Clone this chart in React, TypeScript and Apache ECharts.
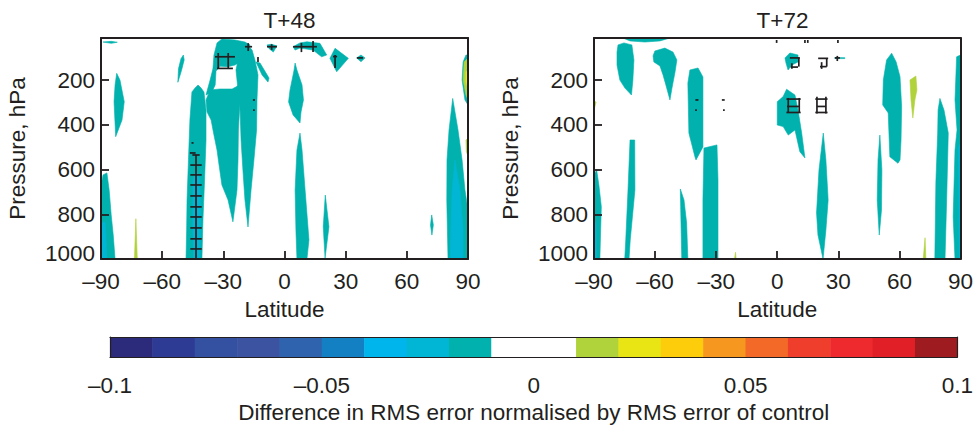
import React, { useEffect, useRef } from "react";
import * as echarts from "echarts";

// ---------------- data ----------------
const latTicks = [-90, -60, -30, 0, 30, 60, 90];
const pressureTicks = [200, 400, 600, 800, 1000];
const pressureTop = 12;
const pressureBottom = 1000;

const colorbarEdges = [
  -0.1, -0.09, -0.08, -0.07, -0.06, -0.05, -0.04, -0.03, -0.02, -0.01, 0,
  0.01, 0.02, 0.03, 0.04, 0.05, 0.06, 0.07, 0.08, 0.09, 0.1,
];
const colorbarColors = [
  "#2b2a7b", "#2e3b95", "#3350a1", "#3b53a0", "#2f63ae", "#1380c3", "#00b5ec",
  "#00b6d4", "#00b1ad", "#ffffff", "#ffffff", "#b0d23a", "#e9e515", "#fdcc0b",
  "#f6971f", "#f26928", "#ef3e2c", "#ee2a2e", "#e01f26", "#9e1c20",
];
const colorbarTicks = [-0.1, -0.05, 0, 0.05, 0.1];

const panelTitles = ["T+48", "T+72"];

// filled regions: [colour-bin index, [[latitude, pressure], ...]]
const t48Regions: [number, number[][]][] = [
  [8, [[-89, 30], [-85, 27], [-82, 31], [-85, 36]]],
  [8, [[-90, 674], [-89, 624], [-87.1, 615], [-86, 691], [-85, 803], [-84, 893], [-83.1, 1000], [-90, 1000]]],
  [7, [[-90, 840], [-88, 835], [-87.5, 900], [-87.2, 1000], [-90, 1000]]],
  [11, [[-73.6, 1000], [-72.9, 820], [-72.2, 1000]]],
  [8, [[-82.3, 170], [-80.7, 200], [-78.6, 297], [-79.7, 379], [-82.8, 453], [-83.6, 297], [-83.1, 222]]],
  [8, [[-49.6, 88], [-49.2, 110], [-50.6, 160], [-52.3, 210], [-52.0, 150], [-50.8, 105]]],
  [8, [[-48.3, 1000], [-48.0, 870], [-47.8, 736], [-47.1, 557], [-46.4, 379], [-45.4, 253], [-43.9, 236], [-42.4, 222], [-40.9, 236], [-39.5, 253], [-38.5, 334], [-38.5, 468], [-39.2, 647], [-40, 826], [-40.5, 1000]]],
  [7, [[-44.9, 650], [-43.4, 600], [-41.6, 640], [-41.2, 800], [-41.4, 1000], [-44.6, 1000], [-45, 850]]],
  [8, [[-38.5, 289], [-36.5, 244], [-31.6, 240], [-25.7, 240], [-22.8, 226], [-21.8, 289], [-22.6, 423], [-22.8, 557], [-23.3, 691], [-25.3, 834], [-27.7, 736], [-30.7, 669], [-32.1, 580], [-33.1, 513], [-34.6, 446], [-36, 379], [-38, 343]]],
  [8, [[-23.8, 155], [-21.8, 66], [-18.4, 39], [-15.9, 66], [-14.5, 110], [-13, 177], [-13.5, 289], [-13.7, 423], [-15, 557], [-16.4, 691], [-17.9, 857], [-19.4, 736], [-20.4, 602], [-21.3, 468], [-21.8, 334], [-22.8, 244]]],
  [8, [[-14.0, 119], [-12.0, 124], [-7.6, 191], [-8.1, 209], [-11.0, 177]]],
  [8, [[-35.1, 150], [-34.6, 88], [-33.1, 34], [-30.7, 16], [-24.3, 21], [-19.4, 30], [-16.9, 43], [-18.4, 88], [-21.8, 119], [-24.3, 133], [-27.7, 140], [-31.6, 138], [-33.6, 160]]],
  [8, [[-38.5, 267], [-36.5, 200], [-35.1, 150], [-33.6, 160], [-34, 222], [-35.6, 253]]],
  [8, [[-8.6, 43], [-6.5, 40], [-3.7, 47], [-5.5, 75], [-7.5, 60]]],
  [8, [[4.2, 51], [7.6, 34], [11, 29], [17.4, 36], [20.7, 88], [18.2, 96], [14, 66], [7.6, 57], [5.2, 66]]],
  [8, [[22.3, 103], [24.8, 58], [31.3, 103], [25.6, 163]]],
  [8, [[35.4, 101], [37.5, 88], [39.5, 101], [37.5, 118]]],
  [8, [[5.2, 124], [6.1, 155], [8.6, 222], [9.3, 289], [8.1, 343], [7.6, 392], [4.2, 356], [2, 298], [2.7, 244], [4.7, 155]]],
  [8, [[7.6, 437], [8.6, 513], [10.1, 691], [12, 915], [11, 1000], [6.1, 1000], [5.6, 870], [5.2, 691], [6.1, 513]]],
  [8, [[20, 714], [21.8, 856], [19.9, 996], [19, 856]]],
  [8, [[72.2, 803], [73, 848], [72.3, 893], [71.6, 848]]],
  [8, [[82.5, 282], [85.1, 423], [87.1, 557], [88.5, 691], [90, 781], [90, 1000], [80.2, 1000], [79.6, 736], [79.7, 557], [80.7, 423]]],
  [7, [[83.6, 557], [86.1, 691], [87.6, 870], [87.6, 1000], [81.2, 1000], [81.7, 826], [82.2, 691]]],
  [8, [[89, 88], [90, 88], [90, 311], [88.5, 289], [87.1, 200], [87.6, 119]]],
  [11, [[88.1, 119], [90, 101], [90, 289], [89, 267], [87.6, 200]]],
  [12, [[89, 164], [90, 155], [90, 236], [89, 209]]],
  [11, [[89, 468], [90, 460], [90, 540], [89.2, 520]]],
];

const t72Regions: [number, number[][]][] = [
  [8, [[-75.8, 12], [-52.7, 12], [-57.6, 25], [-65, 30], [-72.3, 25]]],
  [8, [[-78.2, 43], [-75.3, 34], [-71.4, 43], [-70.4, 110], [-70.9, 200], [-71.6, 267], [-74.8, 236], [-77.3, 200], [-78.7, 133], [-78.7, 75]]],
  [8, [[-60.1, 70], [-55.2, 57], [-51.2, 75], [-49.3, 110], [-50.2, 164], [-51.7, 236], [-52.7, 289], [-54.7, 222], [-56.1, 177], [-57.6, 137], [-60.6, 119], [-61, 92]]],
  [8, [[-42.9, 155], [-38.9, 146], [-36.5, 186], [-36.5, 289], [-36.5, 499], [-39.9, 557], [-40.4, 544], [-43.4, 437], [-43.9, 213]]],
  [8, [[-36, 504], [-29.6, 490], [-29.1, 647], [-29.1, 1000], [-36.5, 1000], [-36.5, 736]]],
  [8, [[-47.6, 687], [-45.8, 736], [-44.5, 839], [-43.9, 1000], [-46.9, 1000], [-47.3, 826]]],
  [8, [[-72.3, 468], [-70, 468], [-69.9, 691], [-72.2, 915], [-72.8, 1000], [-74.9, 1000], [-74.4, 915], [-73.3, 691]]],
  [8, [[-88.7, 602], [-87.6, 669], [-86.4, 766], [-86.8, 893], [-87.1, 996], [-90, 1000], [-90, 624]]],
  [7, [[-90, 826], [-89, 840], [-88.6, 1000], [-90, 1000]]],
  [11, [[-90, 289], [-89, 300], [-90, 334]]],
  [8, [[4.6, 241], [8.7, 267], [10.2, 334], [12, 437], [13.6, 548], [11.1, 520], [8.7, 423], [5.4, 446], [2.9, 408], [0, 401], [0, 297], [2.9, 274]]],
  [8, [[3.8, 101], [6.2, 79], [10.2, 88], [10.2, 119], [7.2, 133], [5.3, 155], [4.3, 124]]],
  [8, [[28.3, 99], [33.2, 100], [33.2, 104], [28.3, 104]]],
  [8, [[22.6, 437], [23.9, 557], [25, 736], [23.9, 870], [22.5, 1000], [20, 893], [19.3, 794], [20.5, 602]]],
  [8, [[50.4, 446], [51.4, 602], [51.2, 781], [50.1, 893], [49.1, 736], [49.5, 557]]],
  [8, [[56.2, 80], [58.4, 119], [60.3, 185], [61.1, 319], [60.8, 468], [60.3, 557], [59.3, 572], [55.3, 543], [54.5, 347], [51.8, 311], [52.1, 200], [53.7, 110]]],
  [11, [[65.2, 200], [68.1, 182], [68.6, 244], [67.6, 289], [66.6, 370], [65.7, 289]]],
  [11, [[71.7, 1000], [72.6, 905], [73, 1000]]],
  [11, [[-21, 1000], [-20.5, 970], [-20.2, 1000]]],
  [8, [[79.9, 282], [81.9, 334], [84, 437], [83.2, 736], [82.4, 1000], [77.4, 1000], [77.9, 660], [78.8, 437], [79, 334]]],
  [8, [[88.1, 96], [90, 88], [90, 1000], [87.3, 1000], [86.4, 811], [87.3, 513], [88.3, 423], [87.3, 289]]],
  [7, [[89, 500], [90, 480], [90, 1000], [89.3, 1000]]],
];

// significance marks: [lat1, p1, lat2, p2]
const t48Marks: number[][] = [
  [-43.4, 535, -43.4, 1000],
  [-45.2, 535, -41.6, 535], [-46.2, 580, -40.6, 580], [-46.2, 624, -40.6, 624],
  [-46.2, 669, -40.6, 669], [-46.2, 718, -40.6, 718], [-46.2, 767, -40.6, 767],
  [-46.2, 812, -40.6, 812], [-46.2, 861, -40.6, 861], [-46.2, 910, -40.6, 910],
  [-46.2, 955, -40.6, 955],
  [-45.6, 481, -44.6, 481], [-46.4, 526, -43.6, 526],
  [-34.1, 96, -24.3, 96], [-32.5, 79, -32.5, 146], [-27.6, 79, -27.6, 146], [-33.1, 148, -25.3, 148],
  [-19.4, 51, -15.9, 51], [-17.8, 35, -17.8, 70],
  [-13, 97, -13, 119],
  [-8.6, 51, -3.7, 51], [-6.3, 40, -6.3, 65],
  [4.2, 51, 15.9, 51], [8.3, 34, 8.3, 75], [14, 25, 14, 75],
  [24.8, 88, 24.8, 146], [23.8, 95, 25.8, 95],
  [35.5, 101, 38.5, 101],
  [-15.5, 289, -14.5, 289], [-15, 330, -15, 338],
];

const t72Marks: number[][] = [
  [6.2, 101, 11.1, 101], [10.6, 101, 10.6, 140], [6.6, 142, 10.2, 142], [7.2, 125, 7.2, 150],
  [20.1, 103, 25, 103], [24.3, 103, 24.3, 140], [21, 140, 24.3, 140], [21.8, 120, 21.8, 150],
  [28.3, 101, 30.8, 101], [29.5, 92, 29.5, 115],
  [13.6, 21, 13.6, 34], [15, 21, 15, 34], [29.8, 21, 29.8, 34], [-0.3, 21, -0.3, 34],
  [5.4, 280, 5.4, 345], [10.8, 280, 10.8, 345], [4.5, 285, 11.5, 285], [4.8, 318, 10.8, 318], [4.5, 345, 11.5, 345],
  [19.5, 275, 19.5, 350], [23.9, 275, 23.9, 350], [18.7, 285, 24.7, 285], [19.5, 318, 23.9, 318], [18.7, 345, 24.7, 345],
  [-40.2, 289, -38.7, 289], [-39.9, 330, -39.9, 338], [-27.2, 289, -25.8, 289], [-26.2, 330, -26.2, 338],
];

// ---------------- styling ----------------
const FONT = "'Liberation Sans', Arial, Helvetica, sans-serif";
const INK = "#231f20";
const FS = 22.5;

const minusFmt = (v: number) => {
  if (Math.abs(v) < 1e-12) return "0";
  const s = String(Math.round(Math.abs(v) * 1000) / 1000);
  return v < 0 ? "\u2013" + s : s;
};

function regionSeries(regions: [number, number[][]][], axisIndex: number) {
  return {
    type: "custom",
    xAxisIndex: axisIndex,
    yAxisIndex: axisIndex,
    clip: true,
    z: 2,
    silent: true,
    data: regions.map((r) => r[1][0]),
    renderItem: (params: any, api: any) => {
      const [lvl, pts] = regions[params.dataIndex];
      const points = pts.map((pt) => api.coord(pt));
      const c = colorbarColors[lvl];
      return {
        type: "polygon",
        shape: { points },
        style: { fill: c, stroke: c, lineWidth: 0.6 },
      };
    },
  };
}

function markSeries(marks: number[][], axisIndex: number) {
  return {
    type: "custom",
    xAxisIndex: axisIndex,
    yAxisIndex: axisIndex,
    clip: true,
    z: 3,
    silent: true,
    data: marks.map((m) => [m[0], m[1]]),
    renderItem: (params: any, api: any) => {
      const m = marks[params.dataIndex];
      const a = api.coord([m[0], m[1]]);
      const b = api.coord([m[2], m[3]]);
      return {
        type: "line",
        shape: { x1: a[0], y1: a[1], x2: b[0], y2: b[1] },
        style: { stroke: INK, lineWidth: 1.7 },
      };
    },
  };
}

const frameLine = (width: number) => ({ show: true, onZero: false, lineStyle: { color: INK, width } });

const lineOnly = (extra: any, width = 2) => ({
  type: "value",
  axisLabel: { show: false },
  axisTick: { show: false },
  splitLine: { show: false },
  axisLine: frameLine(width),
  z: 10,
  ...extra,
});

function buildOption() {
  const plotLefts = [101, 594];
  const gridW = 367;
  const grids: any[] = plotLefts.map((l) => ({ left: l, top: 38, width: gridW, height: 221 }));
  grids.push({ left: 110, top: 337, width: 848, height: 21 });

  const xAxis: any[] = [];
  const yAxis: any[] = [];
  plotLefts.forEach((_, gi) => {
    xAxis.push({
      type: "value",
      gridIndex: gi,
      position: "bottom",
      min: latTicks[0],
      max: latTicks[latTicks.length - 1],
      interval: 30,
      name: "Latitude",
      nameLocation: "middle",
      nameGap: 36,
      nameTextStyle: { fontFamily: FONT, fontSize: FS, color: INK },
      axisLine: frameLine(2),
      axisTick: { show: true, inside: true, length: 8, lineStyle: { color: INK, width: 1.8 } },
      axisLabel: {
        fontFamily: FONT, fontSize: FS, color: INK, margin: 11,
        formatter: (v: number) => minusFmt(v),
      },
      splitLine: { show: false },
      z: 10,
    });
    xAxis.push(lineOnly({ gridIndex: gi, position: "top", min: -90, max: 90 }));
    yAxis.push({
      type: "value",
      gridIndex: gi,
      position: "left",
      inverse: true,
      min: pressureTop,
      max: pressureBottom,
      name: "Pressure, hPa",
      nameLocation: "middle",
      nameGap: 72,
      nameRotate: 90,
      nameTextStyle: { fontFamily: FONT, fontSize: FS, color: INK },
      axisLine: frameLine(2),
      axisTick: {
        show: true, inside: true, length: 8, customValues: pressureTicks,
        lineStyle: { color: INK, width: 1.8 },
      },
      axisLabel: {
        fontFamily: FONT, fontSize: FS, color: INK, margin: 6,
        customValues: pressureTicks,
        formatter: (v: number) => (v === pressureBottom ? "{lo|" + v + "}" : String(v)),
        rich: { lo: { fontFamily: FONT, fontSize: FS, color: INK, padding: [0, 0, 12, 0] } },
      },
      splitLine: { show: false },
      z: 10,
    });
    yAxis.push(lineOnly({ gridIndex: gi, position: "right", inverse: true, min: pressureTop, max: pressureBottom }));
  });

  // colour bar axes
  xAxis.push({
    type: "value",
    gridIndex: 2,
    position: "bottom",
    min: colorbarEdges[0],
    max: colorbarEdges[colorbarEdges.length - 1],
    name: "Difference in RMS error normalised by RMS error of control",
    nameLocation: "middle",
    nameGap: 44,
    nameTextStyle: { fontFamily: FONT, fontSize: FS, color: INK },
    axisLine: frameLine(1.2),
    axisTick: { show: false },
    axisLabel: {
      fontFamily: FONT, fontSize: FS, color: INK, margin: 17,
      customValues: colorbarTicks,
      formatter: (v: number) => minusFmt(v),
    },
    splitLine: { show: false },
    z: 10,
  });
  xAxis.push(lineOnly({ gridIndex: 2, position: "top", min: -0.1, max: 0.1 }, 1.2));
  yAxis.push(lineOnly({ gridIndex: 2, position: "left", min: 0, max: 1 }, 1.2));
  yAxis.push(lineOnly({ gridIndex: 2, position: "right", min: 0, max: 1 }, 1.2));

  const colorbarSeries = {
    type: "custom",
    xAxisIndex: 4,
    yAxisIndex: 4,
    silent: true,
    z: 2,
    data: colorbarColors.map((_, i) => [colorbarEdges[i], 0]),
    renderItem: (params: any, api: any) => {
      const i = params.dataIndex;
      const a = api.coord([colorbarEdges[i], 1]);
      const b = api.coord([colorbarEdges[i + 1], 0]);
      return {
        type: "rect",
        shape: { x: a[0], y: a[1], width: b[0] - a[0] + 0.5, height: b[1] - a[1] },
        style: { fill: colorbarColors[i] },
      };
    },
  };

  return {
    animation: false,
    backgroundColor: "#ffffff",
    title: panelTitles.map((t, i) => ({
      text: t,
      left: plotLefts[i] + gridW / 2,
      top: 4,
      textAlign: "center",
      textStyle: { fontFamily: FONT, fontSize: FS, fontWeight: "normal", color: INK },
    })),
    grid: grids,
    xAxis,
    yAxis,
    series: [
      regionSeries(t48Regions, 0),
      markSeries(t48Marks, 0),
      regionSeries(t72Regions, 2),
      markSeries(t72Marks, 2),
      colorbarSeries,
    ],
  };
}

export default function App() {
  const ref = useRef<HTMLDivElement>(null);
  useEffect(() => {
    if (!ref.current) return;
    const chart = echarts.init(ref.current, undefined, { renderer: "svg" });
    chart.setOption(buildOption() as any);
    return () => chart.dispose();
  }, []);
  return (
    <div
      ref={ref}
      style={{ position: "fixed", left: 0, top: 0, width: 976, height: 425, background: "#fff" }}
    />
  );
}
